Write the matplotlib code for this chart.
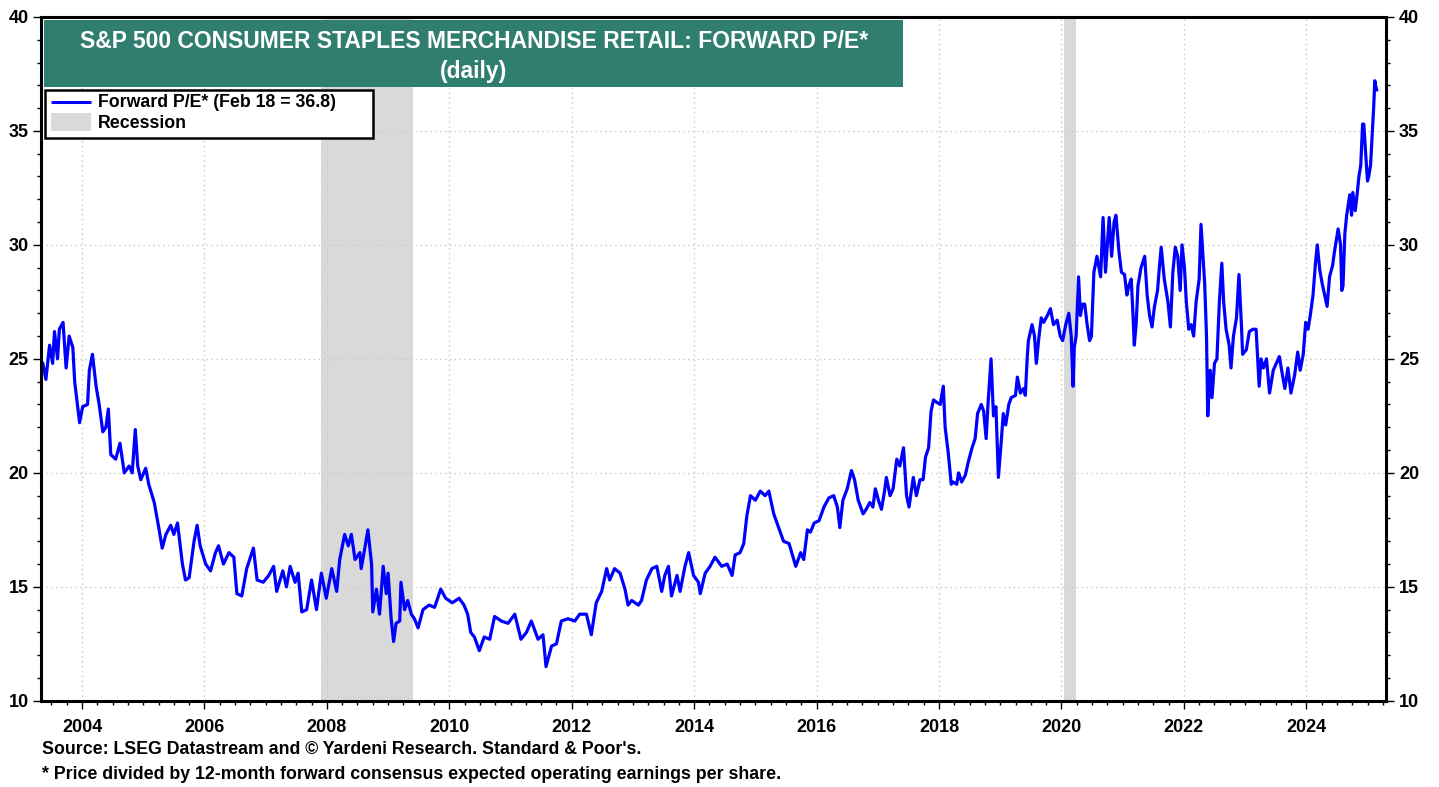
import numpy as np
import matplotlib.pyplot as plt
from matplotlib.patches import Rectangle
from matplotlib.ticker import MultipleLocator

plt.rcParams['font.family'] = ['Liberation Sans', 'DejaVu Sans']
plt.rcParams['font.weight'] = 'bold'

# forward P/E (decimal years)
years = [
    2003.36, 2003.41, 2003.47, 2003.52, 2003.55, 2003.60, 2003.63, 2003.69, 2003.74, 2003.79,
    2003.85, 2003.88, 2003.96, 2004.01, 2004.09, 2004.12, 2004.17, 2004.23, 2004.28, 2004.34,
    2004.39, 2004.43, 2004.47, 2004.55, 2004.62, 2004.69, 2004.77, 2004.82, 2004.87, 2004.91,
    2004.96, 2005.04, 2005.09, 2005.18, 2005.26, 2005.31, 2005.37, 2005.45, 2005.50, 2005.56,
    2005.64, 2005.69, 2005.75, 2005.83, 2005.88, 2005.93, 2006.02, 2006.10, 2006.18, 2006.23,
    2006.31, 2006.40, 2006.48, 2006.53, 2006.61, 2006.69, 2006.80, 2006.86, 2006.96, 2007.05,
    2007.13, 2007.18, 2007.28, 2007.34, 2007.40, 2007.48, 2007.53, 2007.59, 2007.67, 2007.75,
    2007.83, 2007.91, 2007.99, 2008.08, 2008.16, 2008.21, 2008.29, 2008.35, 2008.40, 2008.46,
    2008.54, 2008.56, 2008.62, 2008.67, 2008.73, 2008.75, 2008.81, 2008.86, 2008.92, 2008.97,
    2009.00, 2009.05, 2009.09, 2009.13, 2009.19, 2009.21, 2009.27, 2009.32, 2009.38, 2009.43,
    2009.49, 2009.57, 2009.67, 2009.76, 2009.86, 2009.94, 2010.05, 2010.16, 2010.24, 2010.30,
    2010.35, 2010.41, 2010.49, 2010.57, 2010.66, 2010.74, 2010.85, 2010.96, 2011.07, 2011.17,
    2011.26, 2011.34, 2011.45, 2011.53, 2011.58, 2011.67, 2011.75, 2011.83, 2011.94, 2012.05,
    2012.13, 2012.24, 2012.32, 2012.40, 2012.49, 2012.57, 2012.62, 2012.70, 2012.79, 2012.87,
    2012.92, 2012.98, 2013.09, 2013.14, 2013.22, 2013.31, 2013.39, 2013.47, 2013.52, 2013.58,
    2013.63, 2013.72, 2013.77, 2013.85, 2013.91, 2013.99, 2014.07, 2014.10, 2014.18, 2014.26,
    2014.34, 2014.45, 2014.54, 2014.62, 2014.67, 2014.75, 2014.81, 2014.86, 2014.92, 2015.00,
    2015.08, 2015.16, 2015.22, 2015.30, 2015.38, 2015.46, 2015.55, 2015.66, 2015.74, 2015.79,
    2015.85, 2015.90, 2015.96, 2016.04, 2016.12, 2016.20, 2016.28, 2016.34, 2016.38, 2016.43,
    2016.50, 2016.57, 2016.62, 2016.68, 2016.76, 2016.81, 2016.87, 2016.92, 2016.96, 2017.01,
    2017.06, 2017.11, 2017.14, 2017.20, 2017.25, 2017.31, 2017.36, 2017.42, 2017.47, 2017.51,
    2017.58, 2017.63, 2017.69, 2017.74, 2017.78, 2017.83, 2017.87, 2017.91, 2017.96, 2018.02,
    2018.07, 2018.10, 2018.15, 2018.20, 2018.23, 2018.29, 2018.32, 2018.37, 2018.43, 2018.48,
    2018.54, 2018.59, 2018.63, 2018.69, 2018.73, 2018.77, 2018.80, 2018.85, 2018.89, 2018.93,
    2018.97, 2019.02, 2019.05, 2019.09, 2019.14, 2019.18, 2019.25, 2019.28, 2019.33, 2019.38,
    2019.41, 2019.44, 2019.46, 2019.52, 2019.56, 2019.59, 2019.63, 2019.67, 2019.71, 2019.77,
    2019.82, 2019.87, 2019.93, 2019.98, 2020.02, 2020.07, 2020.12, 2020.16, 2020.19, 2020.21,
    2020.24, 2020.28, 2020.31, 2020.34, 2020.38, 2020.42, 2020.46, 2020.49, 2020.53, 2020.58,
    2020.64, 2020.68, 2020.72, 2020.78, 2020.82, 2020.86, 2020.89, 2020.94, 2020.98, 2021.03,
    2021.07, 2021.10, 2021.14, 2021.17, 2021.19, 2021.22, 2021.25, 2021.30, 2021.36, 2021.40,
    2021.44, 2021.48, 2021.52, 2021.57, 2021.60, 2021.63, 2021.68, 2021.74, 2021.78, 2021.82,
    2021.86, 2021.90, 2021.94, 2021.97, 2022.01, 2022.04, 2022.08, 2022.12, 2022.16, 2022.20,
    2022.25, 2022.28, 2022.31, 2022.34, 2022.37, 2022.39, 2022.43, 2022.46, 2022.50, 2022.54,
    2022.58, 2022.62, 2022.65, 2022.69, 2022.74, 2022.77, 2022.81, 2022.86, 2022.90, 2022.94,
    2022.96, 2023.02, 2023.07, 2023.13, 2023.18, 2023.23, 2023.26, 2023.30, 2023.35, 2023.40,
    2023.46, 2023.51, 2023.56, 2023.61, 2023.65, 2023.70, 2023.75, 2023.81, 2023.86, 2023.90,
    2023.95, 2023.99, 2024.03, 2024.07, 2024.11, 2024.15, 2024.18, 2024.22, 2024.26, 2024.30,
    2024.34, 2024.38, 2024.43, 2024.46, 2024.52, 2024.56, 2024.58, 2024.60, 2024.63, 2024.66,
    2024.71, 2024.74, 2024.76, 2024.80, 2024.83, 2024.86, 2024.89, 2024.92, 2024.94, 2024.97,
    2025.00, 2025.02, 2025.05, 2025.08, 2025.10, 2025.12, 2025.13, 2025.15,
]
pe = [
    24.8, 24.1, 25.6, 24.8, 26.2, 25.0, 26.3, 26.6, 24.6, 26.0,
    25.5, 24.0, 22.2, 22.9, 23.0, 24.5, 25.2, 23.8, 23.0, 21.8,
    22.0, 22.8, 20.8, 20.6, 21.3, 20.0, 20.3, 20.0, 21.9, 20.3,
    19.7, 20.2, 19.5, 18.7, 17.5, 16.7, 17.3, 17.7, 17.3, 17.8,
    16.0, 15.3, 15.4, 17.0, 17.7, 16.8, 16.0, 15.7, 16.5, 16.8,
    16.0, 16.5, 16.3, 14.7, 14.6, 15.8, 16.7, 15.3, 15.2, 15.5,
    15.9, 14.8, 15.7, 15.0, 15.9, 15.2, 15.6, 13.9, 14.0, 15.3,
    14.0, 15.6, 14.5, 15.8, 14.8, 16.2, 17.3, 16.8, 17.3, 16.2,
    16.5, 15.8, 16.7, 17.5, 16.0, 13.9, 14.9, 13.8, 15.9, 14.7,
    15.6, 13.6, 12.6, 13.4, 13.5, 15.2, 14.0, 14.4, 13.8, 13.6,
    13.2, 14.0, 14.2, 14.1, 14.9, 14.5, 14.3, 14.5, 14.2, 13.8,
    13.0, 12.8, 12.2, 12.8, 12.7, 13.7, 13.5, 13.4, 13.8, 12.7,
    13.0, 13.5, 12.7, 12.9, 11.5, 12.4, 12.5, 13.5, 13.6, 13.5,
    13.8, 13.8, 12.9, 14.3, 14.8, 15.8, 15.3, 15.8, 15.6, 14.9,
    14.2, 14.4, 14.2, 14.4, 15.3, 15.8, 15.9, 14.8, 15.5, 15.9,
    14.6, 15.5, 14.8, 15.9, 16.5, 15.5, 15.2, 14.7, 15.6, 15.9,
    16.3, 15.9, 16.0, 15.5, 16.4, 16.5, 16.9, 18.1, 19.0, 18.8,
    19.2, 19.0, 19.2, 18.2, 17.6, 17.0, 16.9, 15.9, 16.5, 16.2,
    17.5, 17.4, 17.8, 17.9, 18.5, 18.9, 19.0, 18.5, 17.6, 18.8,
    19.3, 20.1, 19.7, 18.8, 18.2, 18.4, 18.7, 18.5, 19.3, 18.8,
    18.4, 19.2, 19.8, 19.0, 19.3, 20.6, 20.3, 21.1, 19.0, 18.5,
    19.8, 19.0, 19.7, 19.7, 20.7, 21.1, 22.7, 23.2, 23.1, 23.0,
    23.8, 22.0, 20.9, 19.5, 19.6, 19.5, 20.0, 19.6, 19.9, 20.5,
    21.1, 21.5, 22.6, 23.0, 22.7, 21.5, 23.0, 25.0, 22.5, 22.9,
    19.8, 21.5, 22.6, 22.1, 23.0, 23.3, 23.4, 24.2, 23.5, 23.7,
    23.4, 25.0, 25.8, 26.5, 26.0, 24.8, 25.9, 26.8, 26.6, 26.9,
    27.2, 26.5, 26.7, 26.0, 25.8, 26.5, 27.0, 26.0, 23.8, 25.5,
    26.0, 28.6, 26.9, 27.4, 27.4, 26.5, 25.8, 26.0, 28.8, 29.5,
    28.6, 31.2, 28.8, 31.2, 29.5, 31.0, 31.3, 29.7, 28.8, 28.7,
    27.8, 28.2, 28.5, 26.9, 25.6, 26.5, 28.2, 29.0, 29.5, 27.8,
    26.9, 26.4, 27.3, 28.0, 29.0, 29.9, 28.5, 27.5, 26.4, 28.8,
    29.9, 29.5, 28.0, 30.0, 29.0, 27.5, 26.3, 26.5, 26.0, 27.5,
    28.5, 30.9, 29.6, 28.3, 26.0, 22.5, 24.5, 23.3, 24.8, 25.0,
    27.5, 29.2, 27.5, 26.3, 25.6, 24.6, 26.0, 26.8, 28.7, 26.5,
    25.2, 25.4, 26.2, 26.3, 26.3, 23.8, 25.0, 24.6, 25.0, 23.5,
    24.5, 24.8, 25.1, 24.3, 23.7, 24.6, 23.5, 24.3, 25.3, 24.5,
    25.2, 26.6, 26.3, 27.0, 27.8, 29.2, 30.0, 28.9, 28.3, 27.8,
    27.3, 28.6, 29.1, 29.7, 30.7, 30.0, 28.0, 28.2, 30.5, 31.3,
    32.2, 31.3, 32.3, 31.5, 32.2, 33.0, 33.5, 35.3, 35.3, 34.0,
    32.8, 33.0, 33.5, 35.0, 36.0, 37.2, 37.0, 36.8,
]

recessions = [(2007.90, 2009.40), (2020.04, 2020.23)]

title = "S&P 500 CONSUMER STAPLES MERCHANDISE RETAIL: FORWARD P/E*\n(daily)"
line_label = "Forward P/E* (Feb 18 = 36.8)"
source = "Source: LSEG Datastream and \u00a9 Yardeni Research. Standard & Poor's."
footnote = "* Price divided by 12-month forward consensus expected operating earnings per share."

blue = '#0000ff'
grey = '#d9d9d9'

fig = plt.figure(figsize=(14.39, 7.87), dpi=100)
ax = fig.add_axes([0.0285, 0.1095, 0.935, 0.869])

for start, end in recessions:
    ax.axvspan(start, end, color=grey, lw=0, zorder=0)

ax.plot(years, pe, color=blue, lw=2.3, zorder=3)

ax.set_xlim(2003.33, 2025.31)
ax.set_ylim(10, 40)

ax.xaxis.set_minor_locator(MultipleLocator(0.25))
ax.yaxis.set_major_locator(MultipleLocator(5))
ax.yaxis.set_minor_locator(MultipleLocator(1))
ax.set_xticks(range(2004, 2026, 2))
ax.set_xticklabels([str(y) for y in range(2004, 2026, 2)])

ax.tick_params(which='both', direction='out', width=1, colors='black',
               labelsize=13, right=True, labelright=True)
ax.tick_params(which='major', length=6, pad=3)
ax.tick_params(which='minor', length=3)
ax.tick_params(axis='x', pad=7)
for lab in ax.get_xticklabels() + ax.get_yticklabels():
    lab.set_fontweight('bold')

ax.grid(True, which='major', color='#c8c8c8', ls=(0, (1, 2.5)), lw=1)
ax.set_axisbelow(True)
for sp in ax.spines.values():
    sp.set_linewidth(2.2)
    sp.set_zorder(5)

# title box
ax.add_patch(Rectangle((0.0025, 0.8975), 0.6385, 0.098, transform=ax.transAxes,
                       facecolor='#2f7e70', edgecolor='none', zorder=6))
ax.text(0.3218, 0.9425, title, transform=ax.transAxes, ha='center', va='center',
        color='white', fontsize=16.5, fontweight='bold', linespacing=1.4, zorder=7)

# legend box, drawn by hand so it matches the wide frame
tr = ax.transAxes
ax.add_patch(Rectangle((0.003, 0.8228), 0.2437, 0.0703, transform=tr,
                       facecolor='white', edgecolor='black', lw=1.8, zorder=6))
ax.plot([0.0074, 0.0371], [0.8755, 0.8755], transform=tr, color=blue, lw=2.2,
        zorder=7, solid_capstyle='butt')
ax.add_patch(Rectangle((0.0074, 0.8330), 0.0297, 0.026, transform=tr,
                       facecolor=grey, edgecolor='none', zorder=7))
ax.text(0.0423, 0.8755, line_label, transform=tr, va='center', fontsize=12.8,
        fontweight='bold', zorder=7)
ax.text(0.0423, 0.8445, 'Recession', transform=tr, va='center', fontsize=12.8,
        fontweight='bold', zorder=7)

fig.text(0.029, 0.048, source, fontsize=12.8, fontweight='bold', va='center')
fig.text(0.029, 0.016, footnote, fontsize=12.8, fontweight='bold', va='center')

fig.savefig('out.png', dpi=100)
